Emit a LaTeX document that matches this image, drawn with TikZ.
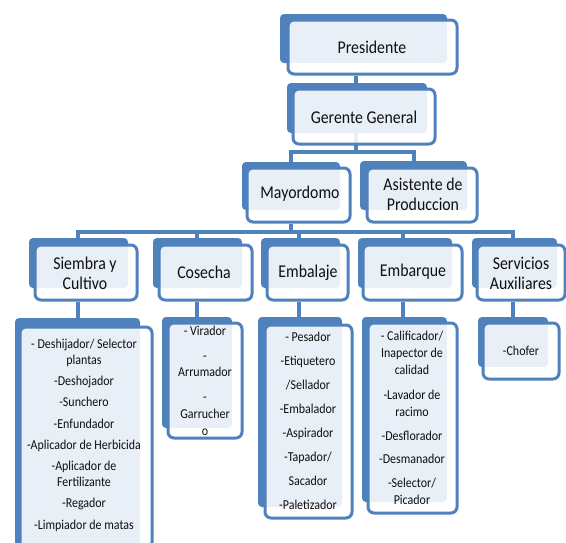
\documentclass[tikz,border=0pt]{standalone}
\usepackage{fontspec}
\setmainfont[FakeStretch=0.88]{Carlito}
\usetikzlibrary{fit}
\definecolor{obl}{HTML}{4F81BD}
\definecolor{txt}{HTML}{101010}
\pgfdeclarelayer{bg}
\pgfsetlayers{bg,main}
\tikzset{
  backbox/.style={fill=obl, rounded corners=4pt, inner sep=0pt},
  frontbox/.style={draw=obl, line width=3pt, fill=white, fill opacity=0.88,
    draw opacity=1, rounded corners=6pt, inner sep=0pt},
  titletext/.style={inner sep=0pt, align=center, text=txt,
    font=\fontsize{18}{20}\selectfont},
  conn/.style={draw=obl, line width=3.5pt},
  listtext/.style={inner sep=0pt, align=center, text=txt,
    font=\fontsize{13.6}{16}\selectfont, anchor=north}
}
\begin{document}
\begin{tikzpicture}[x=1pt,y=-1pt]
\useasboundingbox (0,0) rectangle (566,542);
\clip (0,0) rectangle (566,542);
\begin{pgfonlayer}{bg}
\fill[white] (0,0) rectangle (566,542);
\end{pgfonlayer}

% level 1-2
\node[backbox, fit={(280,14) (447,63)}] (presB) {};
\node[frontbox, fit={(288,20) (457,74)}] (pres) {};
\node[backbox, fit={(287,83) (427,133)}] (gerB) {};
\node[frontbox, fit={(293,89) (435,144)}] (ger) {};
% level 3
\node[backbox, fit={(242,162) (340,210)}] (mayB) {};
\node[frontbox, fit={(247,168) (350,222)}] (may) {};
\node[backbox, fit={(360,161) (467,210)}] (asisB) {};
\node[frontbox, fit={(367,168) (477,222)}] (asis) {};
% level 4
\node[backbox, fit={(29,238) (128,288)}] (sieB) {};
\node[frontbox, fit={(35,245) (137,300)}] (sie) {};
\node[backbox, fit={(153,238) (242,288)}] (cosB) {};
\node[frontbox, fit={(159,245) (252,300)}] (cos) {};
\node[backbox, fit={(261,238) (340,288)}] (embB) {};
\node[frontbox, fit={(267,245) (348,300)}] (emb) {};
\node[backbox, fit={(358,238) (452,288)}] (embqB) {};
\node[frontbox, fit={(363,245) (462,300)}] (embq) {};
\node[backbox, fit={(472,238) (557,288)}] (servB) {};
\node[frontbox, fit={(477,245) (565,300)}] (serv) {};
% lists
\node[backbox, fit={(15,318) (140,560)}] (sieLB) {};
\node[frontbox, fit={(20,327) (152,548)}] (sieL) {};
\node[backbox, fit={(162,317) (232,428)}] (cosLB) {};
\node[frontbox, fit={(168,323) (242,438)}] (cosL) {};
\node[backbox, fit={(258,317) (342,507)}] (embLB) {};
\node[frontbox, fit={(265,325) (352,518)}] (embL) {};
\node[backbox, fit={(362,317) (447,502)}] (embqLB) {};
\node[frontbox, fit={(368,323) (457,513)}] (embqL) {};
\node[backbox, fit={(478,317) (548,367)}] (servLB) {};
\node[frontbox, fit={(483,323) (559,379)}] (servL) {};

% title texts
\node[titletext] (presT) at (372,47) {Presidente};
\node[titletext] (gerT) at (364,117) {Gerente General};
\node[titletext] (mayT) at (300,194) {Mayordomo};
\node[titletext] (asisT) at (423,194) {Asistente de\\Produccion};
\node[titletext] (sieT0) at (85,273) {Siembra y\\Cultivo};
\node[titletext] (cosT0) at (204,272) {Cosecha};
\node[titletext] (embT0) at (308,273) {Embalaje};
\node[titletext] (embqT0) at (413,272) {Embarque};
\node[titletext] (servT0) at (521,273) {Servicios\\Auxiliares};

% list texts
\node[listtext] (sieT) at (84,339) {- Deshijador/ Selector\\plantas\\[5pt]-Deshojador\\[5pt]-Sunchero\\[6pt]-Enfundador\\[5pt]-Aplicador de Herbicida\\[5pt]-Aplicador de\\Fertilizante\\[5pt]-Regador\\[6pt]-Limpiador de matas};
\node[listtext] (cosT) at (205,326) {- Virador\\[9pt]-\\Arrumador\\[9pt]-\\[1pt]Garrucher\\[1pt]o};
\node[listtext, font=\fontsize{13.6}{24}\selectfont] (embT) at (308,332) {- Pesador\\-Etiquetero\\/Sellador\\-Embalador\\-Aspirador\\-Tapador/\\Sacador\\-Paletizador};
\node[listtext, font=\fontsize{13.6}{17}\selectfont] (embqT) at (412,331) {- Calificador/\\Inapector de\\calidad\\[8pt]-Lavador de\\racimo\\[7pt]-Desflorador\\[6pt]-Desmanador\\[7pt]-Selector/\\Picador};
\node[listtext, anchor=center] (servT) at (521,351) {-Chofer};

% connectors
\coordinate (jP) at (356,0);
\coordinate (xm) at (291,0);
\coordinate (xa) at (414,0);
\coordinate (h1) at (0,152);
\coordinate (h2) at (0,232);
\coordinate (xs) at (78,0);
\coordinate (xc) at (197,0);
\coordinate (xe) at (299,0);
\coordinate (xq) at (403,0);
\coordinate (xv) at (513,0);
\begin{pgfonlayer}{bg}
\draw[conn] (pres.south -| jP) -- (h1 -| jP);
\draw[conn] (mayB.north -| xm) -- (h1 -| xm) -- (h1 -| xa) -- (asisB.north -| xa);
\draw[conn] (may.south -| xm) -- (h2 -| xm);
\draw[conn] (sieB.north -| xs) -- (h2 -| xs) -- (h2 -| xv) -- (servB.north -| xv);
\draw[conn] (h2 -| xc) -- (cosB.north -| xc);
\draw[conn] (h2 -| xe) -- (embB.north -| xe);
\draw[conn] (h2 -| xq) -- (embqB.north -| xq);
\draw[conn] (sie.south -| xs) -- (sieLB.north -| xs);
\draw[conn] (cos.south -| xc) -- (cosLB.north -| xc);
\draw[conn] (emb.south -| xe) -- (embLB.north -| xe);
\draw[conn] (embq.south -| xq) -- (embqLB.north -| xq);
\draw[conn] (serv.south -| xv) -- (servLB.north -| xv);
\end{pgfonlayer}
\end{tikzpicture}
\end{document}
